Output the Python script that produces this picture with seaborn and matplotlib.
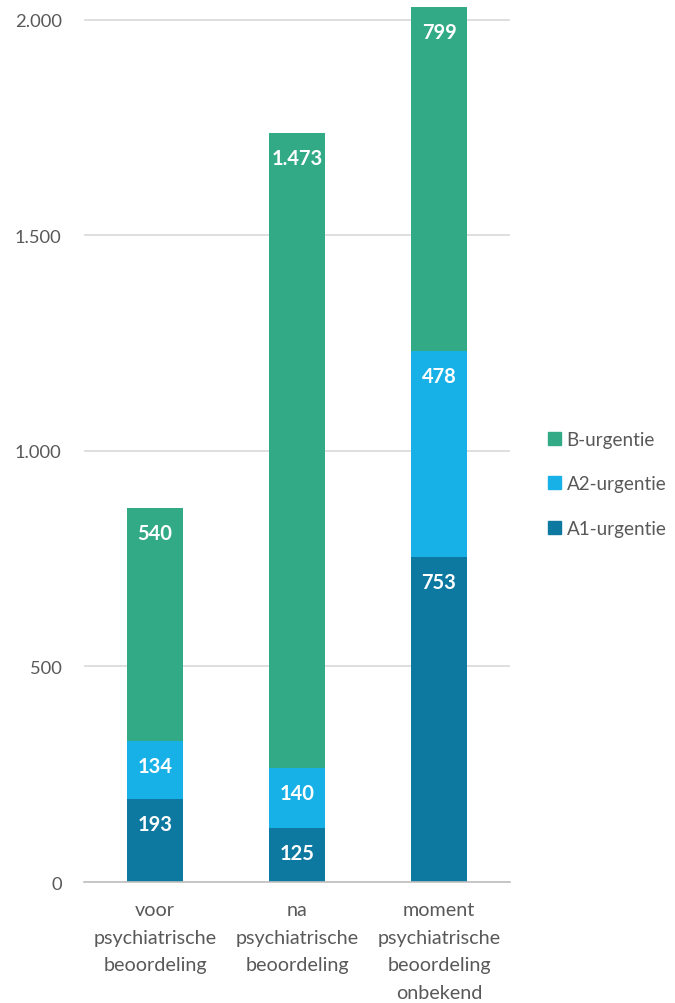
import matplotlib
matplotlib.use("Agg")
import matplotlib.pyplot as plt
import matplotlib.ticker as mticker
from matplotlib.patches import Patch
import seaborn as sns
import pandas as pd

categories = ["voor\npsychiatrische\nbeoordeling",
              "na\npsychiatrische\nbeoordeling",
              "moment\npsychiatrische\nbeoordeling\nonbekend"]
a1_urgentie = [193, 125, 753]
a2_urgentie = [134, 140, 478]
b_urgentie = [540, 1473, 799]
series_names = ["A1-urgentie", "A2-urgentie", "B-urgentie"]
series_colors = ["#0E79A0", "#17B1E8", "#33AA86"]
y_ticks = [0, 500, 1000, 1500, 2000]

sns.set_theme(style="white")
plt.rcParams["font.family"] = ["Lato", "DejaVu Sans"]

df = pd.DataFrame({"cat": categories, "A1": a1_urgentie, "A2": a2_urgentie, "B": b_urgentie})
df["top_a1"] = df["A1"]
df["top_a2"] = df["A1"] + df["A2"]
df["top_b"] = df["A1"] + df["A2"] + df["B"]

fig = plt.figure(figsize=(6.75, 10.04), dpi=100)
ax = fig.add_axes([0.1244, 0.1205, 0.6312, 0.874])

# stacked bars: draw cumulative totals from the tallest down
layers = [("top_b", "B", series_colors[2]),
          ("top_a2", "A2", series_colors[1]),
          ("top_a1", "A1", series_colors[0])]
for top_col, val_col, color in layers:
    sns.barplot(data=df, x="cat", y=top_col, color=color, width=0.39,
                saturation=1, ax=ax, zorder=2, errorbar=None, linewidth=0)

def nl(v):
    return f"{int(v):,}".replace(",", ".")

for i in range(len(categories)):
    for top_col, val_col, _ in layers:
        ax.annotate(nl(df[val_col][i]), xy=(i, df[top_col][i]), xytext=(0, -18),
                    textcoords="offset points", ha="center", va="center",
                    color="white", fontsize=14.5, fontweight="bold", zorder=5)

ax.set_xlim(-0.5, 2.5)
ax.set_ylim(0, 2035)
ax.set_yticks(y_ticks)
ax.yaxis.set_major_formatter(mticker.FuncFormatter(lambda v, p: nl(v)))
ax.set_xlabel("")
ax.set_ylabel("")
ax.grid(axis="y", color="#D9D9D9", linewidth=1.2, zorder=0)
for s in ["top", "right", "left"]:
    ax.spines[s].set_visible(False)
ax.spines["bottom"].set_color("#BFBFBF")
ax.spines["bottom"].set_linewidth(1.2)
ax.tick_params(axis="y", length=0, pad=16, labelsize=13.2, labelcolor="#595959")
ax.tick_params(axis="x", length=0, pad=14, labelsize=14.2, labelcolor="#595959")
for lbl in ax.get_xticklabels():
    lbl.set_linespacing(1.74)

handles = [Patch(color=series_colors[2], label=series_names[2]),
           Patch(color=series_colors[1], label=series_names[1]),
           Patch(color=series_colors[0], label=series_names[0])]
fig.legend(handles=handles, loc="center left", bbox_to_anchor=(0.786, 0.517),
           frameon=False, fontsize=13.6, labelcolor="#595959", handlelength=0.7,
           handleheight=0.7, handletextpad=0.3, labelspacing=1.45)

fig.savefig("out.png", dpi=100, facecolor="white")
